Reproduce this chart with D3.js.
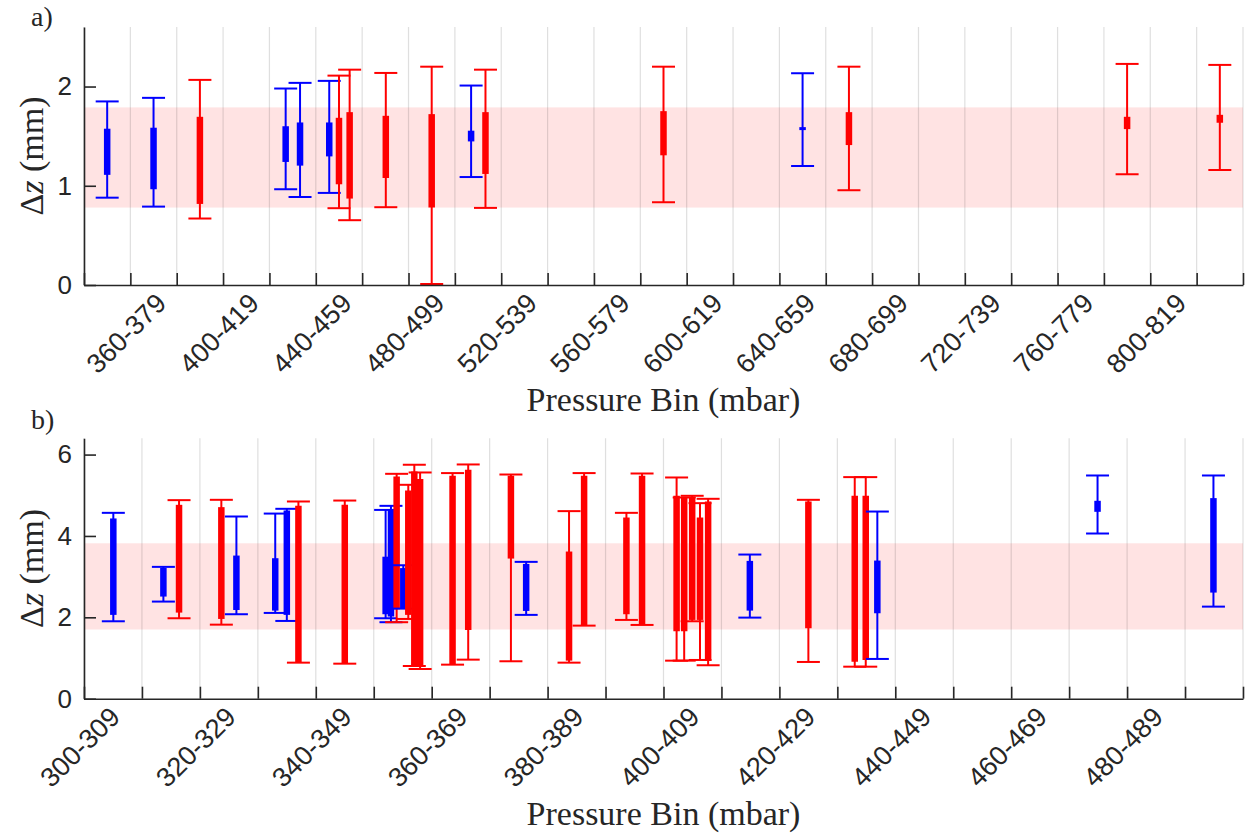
<!DOCTYPE html>
<html>
<head>
<meta charset="utf-8">
<script src="https://d3js.org/d3.v7.min.js"></script>
<style>
  body { margin: 0; background: #fff; }
  svg text { fill: #262626; }
</style>
</head>
<body>
<svg width="1246" height="833"></svg>
<script>
// ---- panel a: 20 mbar bins, positions in bin units (0 = 340 mbar)
const ticksA = d3.range(0, 26);
const tickLabelsA = ["360-379", "400-419", "440-459", "480-499", "520-539", "560-579",
                     "600-619", "640-659", "680-699", "720-739", "760-779", "800-819"];
const labelTicksA = [1, 3, 5, 7, 9, 11, 13, 15, 17, 19, 21, 23];
const posA = [0.5, 1.5, 2.5, 4.35, 4.66, 5.29, 5.5, 5.73, 6.51, 7.5, 8.35, 8.66, 12.5, 15.5, 16.5, 22.5, 24.5];
const grpA = ["blue","blue","red","blue","blue","blue","red","red","red","red","blue","red","red","blue","red","red","red"];
const loA  = [0.88, 0.79, 0.67, 0.965, 0.887, 0.928, 0.774, 0.653, 0.784, 0.01, 1.088, 0.777, 0.834, 1.199, 0.955, 1.116, 1.159];
const q1A  = [1.11, 0.965, 0.817, 1.24, 1.203, 1.296, 1.015, 0.871, 1.078, 0.781, 1.447, 1.119, 1.307, 1.561, 1.41, 1.571, 1.635];
const q3A  = [1.575, 1.585, 1.695, 1.60, 1.638, 1.638, 1.685, 1.742, 1.705, 1.722, 1.555, 1.742, 1.752, 1.591, 1.742, 1.695, 1.715];
const hiA  = [1.85, 1.886, 2.067, 1.98, 2.037, 2.057, 2.11, 2.17, 2.137, 2.20, 2.01, 2.17, 2.20, 2.134, 2.20, 2.228, 2.218];
const bandA = [0.78, 1.79];
const yTicksA = [0, 1, 2];

// ---- panel b: 10 mbar bins (0 = 300 mbar)
const ticksB = d3.range(0, 21);
const tickLabelsB = ["300-309", "320-329", "340-349", "360-369", "380-389",
                     "400-409", "420-429", "440-449", "460-469", "480-489"];
const labelTicksB = [0, 2, 4, 6, 8, 10, 12, 14, 16, 18];
const posB = [0.506, 1.37, 1.64, 2.37, 2.63, 3.30, 3.50, 3.70, 4.50, 5.205, 5.297, 5.395, 5.51, 5.596, 5.70, 5.80,
              6.36, 6.63, 7.367, 7.63, 8.37, 8.63, 9.36, 9.63, 10.226, 10.357, 10.495, 10.63, 10.77, 11.49,
              12.5, 13.30, 13.49, 13.69, 17.49, 19.49];
const grpB = ["blue","blue","red","red","blue","blue","blue","red","red","blue","blue","red","blue","red","red","red",
              "red","red","red","blue","red","red","red","red","red","red","red","red","red","blue",
              "red","red","red","blue","blue","blue"];
const loB = [1.903, 2.387, 1.977, 1.82, 2.076, 2.108, 1.911, 0.886, 0.861, 1.977, 1.88, 1.88, 2.214, 1.96, 0.804, 0.73,
             0.837, 0.96, 0.92, 2.06, 0.886, 1.796, 1.936, 1.813, 0.935, 0.935, 1.903, 0.952, 0.822, 1.993,
             0.903, 0.787, 0.787, 0.977, 4.06, 2.263];
const q1B = [2.06, 2.51, 2.116, 1.96, 2.18, 2.165, 2.06, 0.90, 0.87, 2.076, 2.02, 2.2, 2.224, 2.06, 0.83, 0.787,
             0.854, 1.69, 3.444, 2.157, 0.935, 1.813, 2.076, 1.838, 1.658, 1.658, 1.936, 1.936, 0.935, 2.165,
             1.732, 0.91, 0.952, 2.10, 4.593, 2.608];
const q3B = [4.43, 3.215, 4.765, 4.708, 3.518, 3.453, 4.626, 4.74, 4.765, 3.49, 4.66, 5.46, 3.21, 5.117, 5.585, 5.40,
             5.48, 5.626, 5.48, 3.313, 3.617, 5.48, 4.453, 5.48, 4.987, 4.93, 4.96, 4.453, 4.847, 3.387,
             4.847, 4.987, 4.987, 3.395, 4.864, 4.93];
const hiB = [4.568, 3.24, 4.88, 4.888, 4.478, 4.55, 4.667, 4.847, 4.87, 4.64, 4.74, 5.527, 3.28, 5.257, 5.75, 5.56,
             5.545, 5.757, 5.51, 3.363, 4.61, 5.545, 4.568, 5.535, 5.437, 4.945, 4.987, 4.806, 4.913, 3.543,
             4.888, 5.446, 5.446, 4.60, 5.486, 5.486];
const bandB = [1.70, 3.82];
const yTicksB = [0, 2, 4, 6];

const svg = d3.select("svg");
const left = 84, right = 1243;
const color = d3.scaleOrdinal().domain(["blue", "red"]).range(["#0000ff", "#ff0000"]);
const sans = "'Liberation Sans', Arial, sans-serif";
const serif = "'Liberation Serif', 'Times New Roman', serif";

function panel(p) {
  const x = d3.scaleLinear().domain([0, p.ticks[p.ticks.length - 1]]).range([left, right]);
  const y = d3.scaleLinear().domain(p.yDomain).range([p.bottom, p.top]);
  const g = svg.append("g");

  // shaded band
  g.append("rect")
    .attr("x", left).attr("width", right - left)
    .attr("y", y(p.band[1])).attr("height", y(p.band[0]) - y(p.band[1]))
    .attr("fill", "#ff0000").attr("fill-opacity", 0.11);

  // vertical grid
  g.append("g").selectAll("line").data(p.ticks).join("line")
    .attr("x1", d => x(d)).attr("x2", d => x(d))
    .attr("y1", p.top).attr("y2", p.bottom)
    .attr("stroke", "#262626").attr("stroke-opacity", 0.15).attr("stroke-width", 1.2);

  // error bars
  const bars = g.append("g").selectAll("g").data(d3.range(p.pos.length)).join("g")
    .attr("stroke", i => color(p.grp[i]));
  bars.append("line")
    .attr("x1", i => x(p.pos[i])).attr("x2", i => x(p.pos[i]))
    .attr("y1", i => y(p.lo[i])).attr("y2", i => y(p.hi[i]))
    .attr("stroke-width", 2);
  [p.lo, p.hi].forEach(arr => {
    bars.append("line")
      .attr("x1", i => x(p.pos[i]) - 11.5).attr("x2", i => x(p.pos[i]) + 11.5)
      .attr("y1", i => y(arr[i])).attr("y2", i => y(arr[i]))
      .attr("stroke-width", 2);
  });
  bars.append("line")
    .attr("x1", i => x(p.pos[i])).attr("x2", i => x(p.pos[i]))
    .attr("y1", i => y(p.q1[i])).attr("y2", i => y(p.q3[i]))
    .attr("stroke-width", 6.5);

  // x axis
  const labelOf = new Map(p.labelTicks.map((t, i) => [t, p.labels[i]]));
  const xAxis = g.append("g")
    .attr("transform", `translate(0,${p.bottom})`)
    .call(d3.axisBottom(x).tickValues(p.ticks).tickSizeInner(-12).tickSizeOuter(0)
      .tickFormat(d => labelOf.get(d) || ""));
  xAxis.selectAll("text")
    .attr("x", 0).attr("y", 0).attr("dy", null)
    .attr("text-anchor", "end")
    .attr("transform", "translate(37,20) rotate(-45)")
    .style("font-family", sans).style("font-size", "27px");

  // y axis
  const yAxis = g.append("g")
    .attr("transform", `translate(${left},0)`)
    .call(d3.axisLeft(y).tickValues(p.yTicks).tickSizeInner(-12).tickSizeOuter(0)
      .tickPadding(12).tickFormat(d3.format("d")));
  yAxis.selectAll("text").style("font-family", sans).style("font-size", "26px");

  [xAxis, yAxis].forEach(a => {
    a.selectAll("path, line").attr("stroke", "#262626").attr("stroke-width", 1.6);
  });

  // axis titles
  g.append("text")
    .attr("x", (left + right) / 2).attr("y", p.bottom + 126)
    .attr("text-anchor", "middle")
    .style("font-family", serif).style("font-size", "34px")
    .text("Pressure Bin (mbar)");

  const yl = g.append("text")
    .attr("transform", `translate(43,${(p.top + p.bottom) / 2}) rotate(-90)`)
    .attr("text-anchor", "middle")
    .style("font-family", serif).style("font-size", "34px");
  yl.append("tspan").text("\u0394");
  yl.append("tspan").style("font-style", "italic").text("z");
  yl.append("tspan").text(" (mm)");

  g.append("text")
    .attr("x", 31).attr("y", p.tagY)
    .style("font-family", serif).style("font-size", "28px")
    .text(p.tag);
}

panel({ tag: "a)", tagY: 26, top: 27, bottom: 285, yDomain: [0, 2.6], ticks: ticksA,
        labels: tickLabelsA, labelTicks: labelTicksA, yTicks: yTicksA, band: bandA,
        pos: posA, grp: grpA, lo: loA, q1: q1A, q3: q3A, hi: hiA });

panel({ tag: "b)", tagY: 429, top: 438.3, bottom: 698.7, yDomain: [0, 6.4], ticks: ticksB,
        labels: tickLabelsB, labelTicks: labelTicksB, yTicks: yTicksB, band: bandB,
        pos: posB, grp: grpB, lo: loB, q1: q1B, q3: q3B, hi: hiB });
</script>
</body>
</html>
